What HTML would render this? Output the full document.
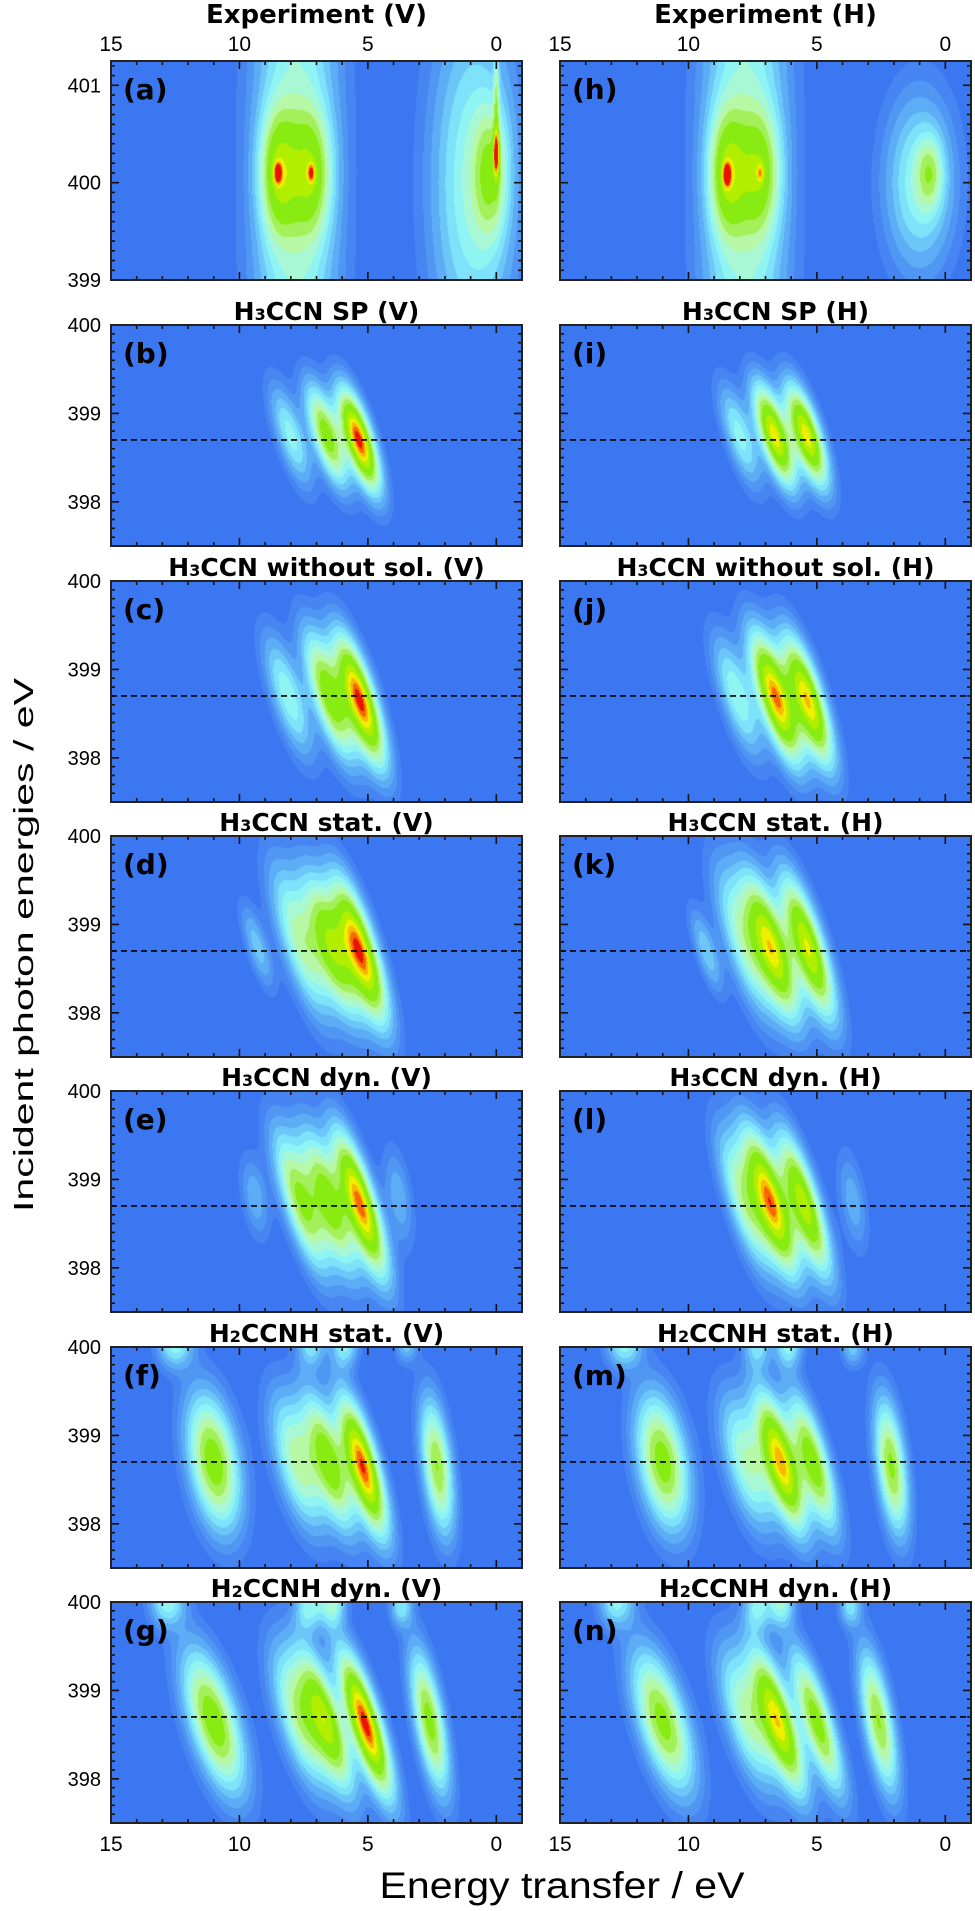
<!DOCTYPE html>
<html><head><meta charset="utf-8">
<style>
html,body{margin:0;padding:0;background:#fff;}
body{width:975px;height:1911px;position:relative;overflow:hidden;}
canvas{position:absolute;}
svg{position:absolute;left:0;top:0;}
</style></head>
<body>
<div id="maps"></div>
<svg id="ov" width="975" height="1911"></svg>
<script>
// ---------- data ----------
const panelIds   = ['a','b','c','d','e','f','g','h','i','j','k','l','m','n'];
const panelTitles = ['Experiment (V)','H|3|CCN SP (V)','H|3|CCN without sol. (V)','H|3|CCN stat. (V)','H|3|CCN dyn. (V)','H|2|CCNH stat. (V)','H|2|CCNH dyn. (V)',
                     'Experiment (H)','H|3|CCN SP (H)','H|3|CCN without sol. (H)','H|3|CCN stat. (H)','H|3|CCN dyn. (H)','H|2|CCNH stat. (H)','H|2|CCNH dyn. (H)'];
const xTickLabels = [15,10,5,0];
const expYTicks = [399,400,401];
const simYTicks = [398,399,400];
const dashedLevel = 398.7;
// peaks: panel, energy transfer, incident energy, amplitude, sigmaE, sigmaW, tilt
const peakPanel = ['a','a','a','a','a','a','a','a','a',
 'h','h','h','h','h','h','h',
 'b','b','b','i','i','i',
 'c','c','c','j','j','j',
 'd','d','d','d','k','k','k','k',
 'e','e','e','e','e','l','l','l','l',
 'f','f','f','f','f','f','f','f','f',
 'm','m','m','m','m','m','m','m','m',
 'g','g','g','g','g','g','g','g','g',
 'n','n','n','n','n','n','n','n','n'];
const peakE = [7.8,8.5,7.2,8.5,7.2,0.9,0.2,0.0,0.0,
 7.8,8.5,7.2,8.5,7.2,1.0,0.6,
 8.0,6.6,5.35, 8.0,6.65,5.4,
 8.1,6.5,5.3, 8.1,6.6,5.35,
 9.3,7.6,6.4,5.3, 9.3,7.8,6.75,5.35,
 7.6,6.5,5.3,3.8,9.4, 7.8,6.8,5.5,3.6,
 11.0,7.7,6.5,5.2,2.3,12.5,7.2,5.9,3.5,
 11.0,7.7,6.4,5.15,2.1,12.5,7.3,6.1,3.6,
 11.0,7.6,6.6,5.1,2.6,12.8,7.3,6.4,3.7,
 11.0,7.7,6.5,5.0,2.6,12.8,7.3,6.4,3.7];
const peakW = [400.0,400.1,400.1,400.1,400.1,400.0,400.1,400.3,400.8,
 400.0,400.1,400.1,400.08,400.1,400.0,400.1,
 398.75,398.75,398.7, 398.75,398.75,398.75,
 398.7,398.7,398.65, 398.7,398.68,398.65,
 398.75,398.8,398.75,398.7, 398.7,398.8,398.74,398.74,
 398.75,398.75,398.72,398.8,398.8, 398.75,398.75,398.72,398.75,
 398.7,398.7,398.7,398.65,398.65,400.05,400.05,400.05,400.05,
 398.7,398.7,398.7,398.7,398.65,400.05,400.05,400.05,400.0,
 398.65,398.7,398.65,398.62,398.65,400.0,399.95,400.0,399.95,
 398.65,398.7,398.65,398.65,398.65,400.0,399.95,400.0,399.95];
const peakAmp = [0.32,0.5,0.45,0.45,0.3,0.34,0.35,0.5,0.28,
 0.32,0.5,0.42,0.5,0.22,0.32,0.28,
 0.3,0.62,1.0, 0.3,0.85,0.85,
 0.33,0.66,1.0, 0.33,0.95,0.88,
 0.2,0.45,0.7,1.0, 0.22,0.42,0.88,0.88,
 0.58,0.62,0.96,0.15,0.15, 0.45,0.97,0.8,0.15,
 0.64,0.45,0.62,0.98,0.56,0.32,0.26,0.3,0.2,
 0.64,0.42,0.92,0.66,0.6,0.32,0.26,0.32,0.2,
 0.64,0.48,0.66,1.0,0.6,0.3,0.3,0.35,0.25,
 0.64,0.45,0.88,0.66,0.6,0.3,0.3,0.35,0.25];
const peakSE = [1.1,0.5,0.55,0.1,0.1,1.1,0.45,0.08,0.07,
 1.1,0.5,0.55,0.1,0.1,0.9,0.35,
 0.33,0.33,0.32, 0.33,0.33,0.33,
 0.38,0.38,0.36, 0.38,0.38,0.36,
 0.25,0.45,0.4,0.38, 0.25,0.45,0.4,0.38,
 0.4,0.38,0.36,0.3,0.3, 0.4,0.38,0.36,0.3,
 0.55,0.5,0.38,0.36,0.33,0.4,0.3,0.3,0.25,
 0.55,0.5,0.38,0.36,0.33,0.4,0.3,0.3,0.25,
 0.55,0.5,0.38,0.36,0.33,0.4,0.3,0.3,0.25,
 0.55,0.5,0.38,0.36,0.33,0.4,0.3,0.3,0.25];
const peakSW = [6,0.45,0.45,0.07,0.07,1.2,0.45,0.15,0.5,
 6,0.45,0.45,0.08,0.07,0.6,0.25,
 0.3,0.3,0.3, 0.3,0.3,0.3,
 0.36,0.38,0.38, 0.36,0.38,0.38,
 0.25,0.45,0.42,0.42, 0.25,0.45,0.42,0.42,
 0.42,0.42,0.42,0.3,0.25, 0.42,0.42,0.42,0.3,
 0.4,0.4,0.4,0.4,0.4,0.15,0.15,0.15,0.12,
 0.4,0.4,0.4,0.4,0.4,0.15,0.15,0.15,0.12,
 0.42,0.42,0.42,0.42,0.42,0.15,0.15,0.15,0.12,
 0.42,0.42,0.42,0.42,0.42,0.15,0.15,0.15,0.12];
const peakTilt = [0,0,0,0,0,0,0,0,0, 0,0,0,0,0,0,0,
 1,1,1, 1,1,1, 1,1,1, 1,1,1, 1,1,1,1, 1,1,1,1,
 1,1,1,0.5,0.5, 1,1,1,0.5,
 0.5,0.8,0.9,0.9,0.4,0,0,0,0,
 0.5,0.8,0.9,0.9,0.4,0,0,0,0,
 0.9,0.9,1.0,1.0,0.6,0,0,0,0,
 0.9,0.9,1.0,1.0,0.6,0,0,0,0];
const levelThresh = [0.035,0.07,0.11,0.16,0.21,0.27,0.33,0.40,0.47,0.55,0.70,0.80,0.87,0.92,0.965];
const levelColors = ['#3b77f0','#4685f2','#5097f4','#5dadf6','#6cc6f8','#7de2fa','#90f4f2','#a8f8d6','#b6f8a6','#a4f05a','#88ec12','#b2ee00','#eef000','#f8b800','#f86800','#e81400'];
const simWidenE = 1.15, simWidenW = 1.25;

// ---------- layout ----------
const colX = [111,560];
const pw = 411;
const rowTop = [61,325,581,836,1091,1347,1602];
const ph = 221;
const xMin = -1, xMax = 15;
function panelBox(i){const col=i<7?0:1, row=i%7; return {x:colX[col], y:rowTop[row], h: row===0?219:ph, row, col};}
function yRange(row){return row===0?[399,401.25]:[397.5,400];}
function sx(b,E){return b.x + (xMax-E)/(xMax-xMin)*pw;}
function sy(b,w){const r=yRange(b.row);return b.y + (r[1]-w)/(r[1]-r[0])*b.h;}

function hex(c){return [parseInt(c.substr(1,2),16),parseInt(c.substr(3,2),16),parseInt(c.substr(5,2),16)];}
const rgbLevels = levelColors.map(hex);

const maps = document.getElementById('maps');
panelIds.forEach((id,i)=>{
  const b = panelBox(i);
  const cv = document.createElement('canvas');
  
  
  cv.width = pw; cv.height = b.h;
  cv.style.left = b.x+'px'; cv.style.top = b.y+'px';
  maps.appendChild(cv);
  const ctx = cv.getContext('2d');
  const img = ctx.createImageData(pw,b.h);
  const r = yRange(b.row);
  const fE = b.row===0?1:simWidenE, fW = b.row===0?1:simWidenW;
  const idx = [];
  peakPanel.forEach((p,k)=>{if(p===id) idx.push(k);});
  const field = new Float32Array(pw*b.h);
  let vmax=0, amax=0;
  idx.forEach(k=>{amax=Math.max(amax,peakAmp[k]);});
  for(let py=0;py<b.h;py++){
    const w = r[1] - (py+0.5)/b.h*(r[1]-r[0]);
    for(let px=0;px<pw;px++){
      const E = xMax - (px+0.5)/pw*(xMax-xMin);
      let v=0;
      for(const k of idx){
        const dw=w-peakW[k];
        const de=(E-peakE[k]-peakTilt[k]*dw)/(peakSE[k]*fE);
        const dd=dw/(peakSW[k]*fW);
        v+=peakAmp[k]*Math.exp(-0.5*(de*de+dd*dd));
      }
      field[py*pw+px]=v; if(v>vmax) vmax=v;
    }
  }
  const norm = b.row===0?1:amax/vmax;
  for(let p=0;p<field.length;p++){
    const v=field[p]*norm;
    let L=0; while(L<levelThresh.length && v>=levelThresh[L]) L++;
    const c=rgbLevels[L]; const o=p*4;
    img.data[o]=c[0];img.data[o+1]=c[1];img.data[o+2]=c[2];img.data[o+3]=255;
  }
  ctx.putImageData(img,0,0);
});

// ---------- overlay ----------
const NS='http://www.w3.org/2000/svg';
const ov=document.getElementById('ov');
function el(tag,attrs,parent){const e=document.createElementNS(NS,tag);for(const k in attrs)e.setAttribute(k,attrs[k]);(parent||ov).appendChild(e);return e;}
const FT='"Liberation Sans", sans-serif';
const FB='"DejaVu Sans", "Liberation Sans", sans-serif';

panelIds.forEach((id,i)=>{
  const b=panelBox(i);
  const g=el('g',{});
  
  
  const r=yRange(b.row);
  let d='';
  for(let E=15;E>=-1;E--){
    const x=sx(b,E); const L=(E%5===0)?8:4;
    d+=`M${x},${b.y}v${L}M${x},${b.y+b.h}v${-L}`;
  }
  const n0=Math.ceil(r[0]*10-1e-6), n1=Math.floor(r[1]*10+1e-6);
  for(let n=n0;n<=n1;n++){
    const y=sy(b,n/10); const L=(n%10===0)?8:4;
    d+=`M${b.x},${y}h${L}M${b.x+pw},${y}h${-L}`;
  }
  const t=el('path',{d:d,stroke:'#111','stroke-width':1.6,fill:'none'},g);
  
  
  if(b.row>0){
    const dl=el('line',{x1:b.x,x2:b.x+pw,y1:sy(b,dashedLevel),y2:sy(b,dashedLevel),stroke:'#000','stroke-width':1.6,'stroke-dasharray':'6,4'},g);
    
    
  }
  const fr=el('rect',{x:b.x,y:b.y,width:pw,height:b.h,fill:'none',stroke:'#222','stroke-width':2},g);
  
  
  const pl=el('text',{x:b.x+12,y:b.y+38,'font-family':FB,'font-weight':'bold','font-size':28,fill:'#000'},g);
  pl.textContent='('+id+')';
  
  
  const parts=panelTitles[i].split('|');
  const ty = b.row===0?23:b.y-5;
  const tt=el('text',{x:b.x+pw/2+(b.row===0?0:10),y:ty,'text-anchor':'middle','font-family':FB,'font-weight':'bold','font-size':b.row===0?26:25,fill:'#000'},g);
  
  
  if(parts.length===1){tt.textContent=parts[0];}
  else{
    const s1=el('tspan',{},tt); s1.textContent=parts[0];
    const s2=el('tspan',{'font-size':16},tt); s2.textContent=parts[1];
    const s3=el('tspan',{},tt); s3.textContent=parts[2];
  }
  if(b.col===0){
    const yt = b.row===0?expYTicks:simYTicks;
    yt.forEach(v=>{
      const lb=el('text',{x:b.x-10,y:sy(b,v)+7,'text-anchor':'end','font-family':FT,'font-size':20,fill:'#000'},g);
      lb.textContent=v;
      
      
    });
  }
  if(b.row===0||b.row===6){
    xTickLabels.forEach(v=>{
      const lb=el('text',{x:sx(b,v),y:b.row===0?51:1851,'text-anchor':'middle','font-family':FT,'font-size':21,fill:'#000'},g);
      lb.textContent=v;
      
      
    });
  }
});
const xt=el('text',{x:562,y:1898,'text-anchor':'middle','font-family':FT,'font-size':37,textLength:365,lengthAdjust:'spacingAndGlyphs',fill:'#000'});
xt.textContent='Energy transfer  / eV';


const yt=el('text',{x:0,y:0,'text-anchor':'middle','font-family':FT,'font-size':28,textLength:534,lengthAdjust:'spacingAndGlyphs',fill:'#000',transform:'translate(33,945) rotate(-90)'});
yt.textContent='Incident photon energies  / eV';


</script>
</body></html>
